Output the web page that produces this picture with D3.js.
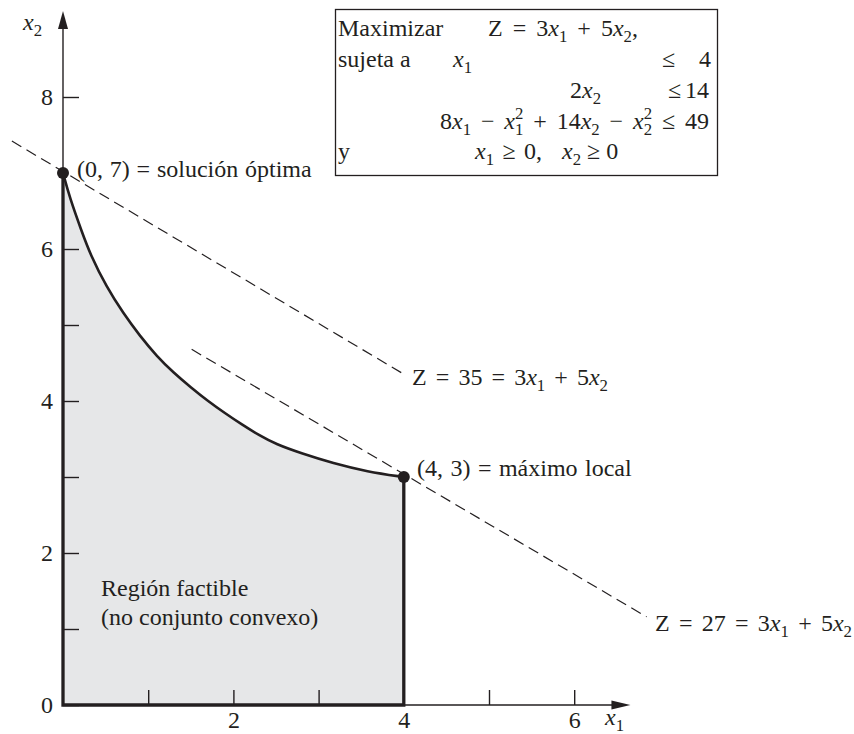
<!DOCTYPE html>
<html><head><meta charset="utf-8">
<script src="https://cdn.jsdelivr.net/npm/d3@7"></script>
<style>
body{margin:0;background:#fff}
svg{display:block}
text{font-family:"Liberation Serif","Times New Roman",serif;fill:#231f20}
</style></head>
<body><svg id="c" width="854" height="734"></svg>
<script>
// ---------- data ----------
const xTicks = [1, 2, 3, 4, 5, 6];
const xTickLabels = [2, 4, 6];
const yTicks = [0, 1, 2, 3, 4, 5, 6, 8];
const yTickLabels = [0, 2, 4, 6, 8];
const xAxisMax = 6.66;
const yAxisMax = 9.13;

// boundary curve 8x1 - x1^2 + 14x2 - x2^2 = 49 as drawn
const curveX1 = [0, 0.08, 0.22, 0.32, 0.51, 0.71, 0.90, 1.10, 1.30, 1.50, 1.70, 1.90, 2.10, 2.30, 2.50, 2.80, 3.17, 3.57, 4];
const curveX2 = [7, 6.67, 6.23, 5.93, 5.50, 5.15, 4.86, 4.59, 4.37, 4.18, 4.00, 3.84, 3.69, 3.55, 3.43, 3.31, 3.18, 3.07, 3];

// objective-function lines Z = 3x1 + 5x2 (dashed)
const isoZ = [35, 27];
const isoX1Start = [-0.60, 1.51];
const isoX2Start = [7.42, 4.68];
const isoX1End = [3.99, 6.85];
const isoX2End = [4.36, 1.16];
const isoLabels = ["Z = 35 = 3x_1 + 5x_2", "Z = 27 = 3x_1 + 5x_2"];

// marked points
const pointX1 = [0, 4];
const pointX2 = [7, 3];
const pointLabels = ["(0, 7) = solución óptima", "(4, 3) = máximo local"];

const regionLabel = ["Región factible", "(no conjunto convexo)"];

// ---------- drawing ----------
const INK = "#231f20";
const FONT = "'Liberation Serif', 'Times New Roman', serif";
const svg = d3.select("#c").attr("font-family", FONT);
const x = d3.scaleLinear().domain([0, 6]).range([63, 574.2]);
const y = d3.scaleLinear().domain([0, 8]).range([705, 97]);

function mathText(parent, x0, y0, src, o = {}) {
  const fs = o.size || 24, gap0 = (o.gap !== undefined) ? o.gap : fs * 0.25;
  const toks = [];
  for (let i = 0; i < src.length; i++) {
    const c = src[i];
    if (c === ' ') toks.push({k: 'gap'});
    else if (c === '_') toks.push({k: 'sub', t: src[++i]});
    else if (c === '^') toks.push({k: 'sup', t: src[++i]});
    else if (c === 'x' && src[i + 1] === '_') toks.push({k: 'it', t: 'x'});
    else {
      const last = toks[toks.length - 1];
      if (last && last.k === 'n') last.t += c; else toks.push({k: 'n', t: c});
    }
  }
  const nG = toks.filter(t => t.k === 'gap').length;
  function build(gap) {
    const t = parent.append("text").attr("x", x0).attr("y", y0).attr("font-size", fs)
      .attr("font-family", FONT).attr("fill", INK);
    let cur = 0, pdx = 0, prev = null;
    toks.forEach(tk => {
      if (tk.k === 'gap') { pdx += gap; return; }
      const s = t.append("tspan").text(tk.t);
      let target = 0, dx = pdx;
      if (tk.k === 'sub') { s.attr("font-size", fs * 0.7); target = fs * 0.27; }
      else if (tk.k === 'sup') {
        s.attr("font-size", fs * 0.7); target = -fs * 0.42;
        if (prev && prev.k === 'sub') dx -= fs * 0.7 * 0.5;
      }
      else if (tk.k === 'it') s.attr("font-style", "italic");
      const dy = target - cur; cur = target;
      if (dx) s.attr("dx", dx);
      if (dy) s.attr("dy", dy);
      pdx = 0; prev = tk;
    });
    return t;
  }
  let t = build(gap0);
  if (o.width && nG > 0) {
    const w = t.node().getBBox().width;
    t.remove();
    t = build(gap0 + (o.width - w) / nG);
  }
  if (o.anchor === 'end') {
    const w = t.node().getBBox().width;
    t.attr("x", x0 - w);
  }
  return t;
}

const curvePts = curveX1.map((v, i) => [v, curveX2[i]]);

// feasible region fill
svg.append("path").datum(curvePts)
  .attr("d", d3.area().x(d => x(d[0])).y0(y(0)).y1(d => y(d[1])).curve(d3.curveBasis))
  .attr("fill", "#e6e7e8");

// dashed objective lines
svg.selectAll("line.iso").data(isoZ).join("line").attr("class", "iso")
  .attr("x1", (d, i) => x(isoX1Start[i])).attr("y1", (d, i) => y(isoX2Start[i]))
  .attr("x2", (d, i) => x(isoX1End[i])).attr("y2", (d, i) => y(isoX2End[i]))
  .attr("stroke", INK).attr("stroke-width", 1.2).attr("stroke-dasharray", "11,6");

// thin axes
svg.append("line").attr("x1", x(0)).attr("x2", x(0)).attr("y1", y(0)).attr("y2", y(yAxisMax) + 10)
  .attr("stroke", INK).attr("stroke-width", 1.4);
svg.append("line").attr("x1", x(0)).attr("x2", x(xAxisMax) - 10).attr("y1", y(0)).attr("y2", y(0))
  .attr("stroke", INK).attr("stroke-width", 1.4);
// arrowheads
svg.append("polygon").attr("fill", INK)
  .attr("points", [[x(0), y(yAxisMax)], [x(0) - 5, y(yAxisMax) + 18], [x(0) + 5, y(yAxisMax) + 18]].join(" "));
svg.append("polygon").attr("fill", INK)
  .attr("points", [[x(xAxisMax), y(0)], [x(xAxisMax) - 19, y(0) - 4.5], [x(xAxisMax) - 19, y(0) + 4.5]].join(" "));

// ticks and labels
const gy = svg.append("g").attr("transform", `translate(${x(0)},0)`)
  .call(d3.axisLeft(y).tickValues(yTicks).tickSizeInner(-16).tickSizeOuter(0).tickPadding(10)
    .tickFormat(d => yTickLabels.includes(d) ? d : ""));
const gx = svg.append("g").attr("transform", `translate(0,${y(0)})`)
  .call(d3.axisBottom(x).tickValues(xTicks).tickSizeInner(-15).tickSizeOuter(0).tickPadding(6)
    .tickFormat(d => xTickLabels.includes(d) ? d : ""));
[gx, gy].forEach(g => {
  g.select(".domain").remove();
  g.attr("font-family", FONT).attr("font-size", 24);
  g.selectAll("line").attr("stroke", INK).attr("stroke-width", 1.4);
  g.selectAll("text").attr("fill", INK).attr("font-size", 24);
});

// thick boundary of the region
svg.append("path")
  .attr("d", d3.line()([[x(0), y(7)], [x(0), y(0)], [x(4), y(0)], [x(4), y(3)]]))
  .attr("fill", "none").attr("stroke", INK).attr("stroke-width", 3.3).attr("stroke-linejoin", "miter");
svg.append("path").datum(curvePts)
  .attr("d", d3.line().x(d => x(d[0])).y(d => y(d[1])).curve(d3.curveBasis))
  .attr("fill", "none").attr("stroke", INK).attr("stroke-width", 2.6);

// points
svg.selectAll("circle.pt").data(pointX1).join("circle").attr("class", "pt")
  .attr("cx", d => x(d)).attr("cy", (d, i) => y(pointX2[i])).attr("r", 6).attr("fill", INK);

// axis titles
mathText(svg, 23, 30, "x_2");
mathText(svg, 605, 725, "x_1");

// point labels
mathText(svg, 77, 177, pointLabels[0], {width: 235});
mathText(svg, 417, 476, pointLabels[1], {width: 215});
// iso labels
mathText(svg, 412, 385, isoLabels[0], {width: 196});
mathText(svg, 655, 631, isoLabels[1], {width: 197});

// region label
mathText(svg, 101, 596, regionLabel[0]);
mathText(svg, 101, 625, regionLabel[1]);

// model box
svg.append("rect").attr("x", 335.5).attr("y", 9.5).attr("width", 382).attr("height", 166)
  .attr("fill", "#fff").attr("stroke", INK).attr("stroke-width", 1.3);
mathText(svg, 338, 36, "Maximizar");
mathText(svg, 488, 36, "Z = 3x_1 + 5x_2,", {width: 150});
mathText(svg, 338, 67, "sujeta a");
mathText(svg, 453, 67, "x_1");
mathText(svg, 662, 67, "≤");
mathText(svg, 711, 67, "4", {anchor: "end"});
mathText(svg, 570, 98, "2x_2");
mathText(svg, 668, 98, "≤");
mathText(svg, 709, 98, "14", {anchor: "end"});
mathText(svg, 440, 129, "8x_1 − x_1^2 + 14x_2 − x_2^2 ≤ 49", {width: 269});
mathText(svg, 338, 159, "y");
mathText(svg, 475, 159, "x_1 ≥ 0,", {width: 68});
mathText(svg, 562, 159, "x_2 ≥ 0", {gap: 6});
</script>
</body></html>
